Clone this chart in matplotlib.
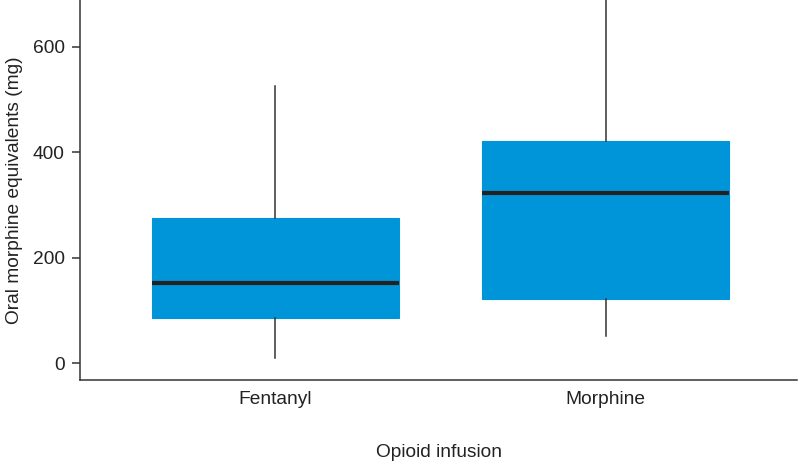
import matplotlib
matplotlib.use("Agg")
import matplotlib.pyplot as plt

plt.rcParams['font.family'] = ['Liberation Sans', 'DejaVu Sans']

categories = ["Fentanyl", "Morphine"]
whislo = [10, 52]
q1 = [86, 122]
med = [153, 324]
q3 = [276, 422]
whishi = [526, 700]
yticks = [0, 200, 400, 600]

stats = [dict(label=c, whislo=a, q1=b, med=m, q3=d, whishi=e)
         for c, a, b, m, d, e in zip(categories, whislo, q1, med, q3, whishi)]

fig = plt.figure(figsize=(7.99, 4.62), dpi=100)
ax = fig.add_axes([80/799, 1 - 380/462, (797-80)/799, 380/462])

ax.bxp(stats, positions=[0, 1], widths=0.75, patch_artist=True, showfliers=False,
       showcaps=False,
       boxprops=dict(facecolor="#0094D9", edgecolor="#0094D9", linewidth=0.8),
       medianprops=dict(color="#222222", linewidth=3),
       whiskerprops=dict(color="#333333", linewidth=1.1))

ax.set_xlim(-0.592, 1.580)
ax.set_ylim(-31.3, 688.8)
ax.set_yticks(yticks)
ax.set_xticks([0, 1])
ax.set_xticklabels(categories)
for s in ["top", "right"]:
    ax.spines[s].set_visible(False)
for s in ["left", "bottom"]:
    ax.spines[s].set_color("#333333")
    ax.spines[s].set_linewidth(1.1)
fs = 13.8
ax.tick_params(axis="y", length=6, width=1.1, color="#333333", labelsize=fs, labelcolor="#222222", pad=5)
ax.tick_params(axis="x", length=0, labelsize=fs, labelcolor="#222222", pad=8)
ax.set_ylabel("Oral morphine equivalents (mg)", fontsize=fs, color="#222222", labelpad=7)
ax.set_xlabel("Opioid infusion", fontsize=fs, color="#222222", labelpad=26)

fig.savefig("out.png", dpi=100)
